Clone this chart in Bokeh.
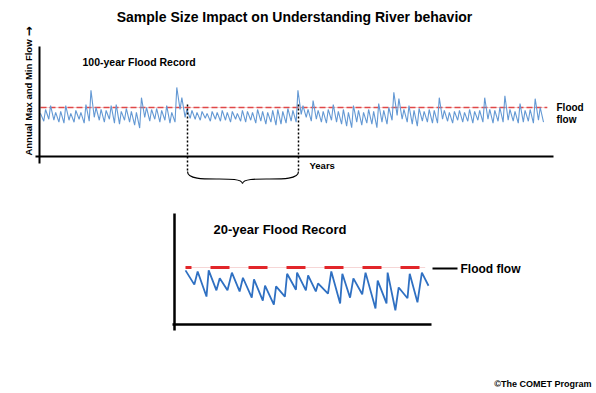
import math
from bokeh.plotting import figure
from bokeh.models import Range1d, Label
from bokeh.embed import file_html
from bokeh.resources import INLINE

# ---------------- data ----------------
# 100-year record: annual maxima and minima (flood flow = 100)
max100 = [88, 96, 104, 90, 92, 104, 88, 94, 90, 106, 135, 100, 96, 94, 104, 106, 92, 98, 92, 90,
          120, 100, 96, 98, 94, 104, 90, 141, 120, 96, 94, 90, 92, 88, 92, 90, 94, 90, 92, 88,
          94, 92, 90, 96, 92, 90, 94, 96, 92, 98, 94, 135, 104, 96, 114, 94, 92, 96, 106, 92,
          96, 90, 104, 94, 90, 96, 92, 108, 94, 100, 131, 118, 96, 104, 94, 98, 92, 96, 94, 120,
          94, 90, 92, 94, 90, 96, 92, 94, 120, 96, 94, 100, 124, 96, 92, 108, 94, 96, 118, 100]
min100 = [72, 76, 74, 70, 68, 74, 70, 76, 68, 72, 80, 74, 70, 76, 68, 66, 74, 70, 64, 58,
          80, 72, 76, 70, 74, 68, 70, 96, 80, 78, 76, 74, 78, 72, 76, 72, 74, 70, 76, 72,
          70, 74, 68, 72, 66, 70, 64, 66, 68, 72, 70, 86, 80, 72, 76, 70, 68, 74, 70, 66,
          62, 59, 70, 64, 68, 66, 59, 70, 66, 74, 84, 76, 70, 66, 62, 72, 70, 68, 68, 76,
          72, 68, 74, 70, 72, 68, 74, 70, 76, 68, 72, 70, 74, 72, 68, 70, 72, 68, 74, 70]

# 20-year record: time (years) and flow (flood flow = 100)
t20 = [0.0, 0.8, 1.1, 1.9, 2.1, 2.8, 3.1, 3.8, 4.2, 4.9, 5.2, 6.0, 6.2, 7.0, 7.2, 8.0,
       8.2, 9.0, 9.2, 10.0, 10.1, 10.9, 11.1, 11.8, 12.0, 12.9, 13.2, 14.0, 14.2, 14.9,
       15.2, 16.0, 16.3, 17.2, 17.4, 18.2, 18.3, 19.0, 19.3, 20.1, 20.3, 21.0, 21.4, 22.0]
flow20 = [95, 70, 93, 49, 95, 60, 81, 60, 91, 58, 82, 47, 79, 42, 68, 35,
          67, 49, 89, 61, 91, 60, 86, 58, 72, 54, 93, 37, 89, 47,
          81, 53, 91, 28, 77, 37, 91, 25, 65, 46, 89, 39, 91, 68]

FLOOD = 100

title = "Sample Size Impact on Understanding River behavior"
ylabel = "Annual Max and Min Flow"
yarrow = "\u2192"
xlabel = "Years"
rec100 = "100-year Flood Record"
rec20 = "20-year Flood Record"
credit = "\u00a9The COMET Program"

# ---------------- layout helpers (page pixel coords) ----------------
W, H = 596, 393
def cx(px): return px
def cy(py): return H - py

p = figure(width=W, height=H, output_backend="svg", toolbar_location=None,
           x_range=Range1d(0, W), y_range=Range1d(0, H), min_border=0)
p.axis.visible = False
p.grid.visible = False
p.outline_line_color = None
p.background_fill_color = "white"
p.border_fill_color = "white"

FONT = "Liberation Sans"

def extra(name_x, name_y, px0, px1, t0, t1, py0, py1, f0, f1):
    sx = (px1 - px0) / (t1 - t0)
    xs = t0 - px0 / sx
    xe = xs + W / sx
    sy = (py0 - py1) / (f1 - f0)
    ys = f0 - (H - py0) / sy
    ye = ys + H / sy
    p.extra_x_ranges[name_x] = Range1d(xs, xe)
    p.extra_y_ranges[name_y] = Range1d(ys, ye)

# top chart: year 0 -> x 40, year 99.65 -> x 543 ; flow 0 -> y 156, flow 100 -> y 107
extra("tx", "ty", 40, 543, 0, 99.65, 156, 107, 0, 100)
# bottom chart: t 0 -> x 185, t 22 -> x 428 ; flow 0 -> y 324, flow 100 -> y 267
extra("bx", "by", 185, 428, 0, 22, 324, 267, 0, 100)

# ---------------- top chart ----------------
tx, ty = [], []
for i, (mx, mn) in enumerate(zip(max100, min100)):
    tx += [i, i + 0.65]
    ty += [mx, mn]

p.line([0, 100.4], [FLOOD, FLOOD], x_range_name="tx", y_range_name="ty",
       line_color="#f6d2d2", line_width=1)
p.line([0, 100.4], [FLOOD, FLOOD], x_range_name="tx", y_range_name="ty",
       line_color="#e04848", line_width=1.4, line_dash="6 3")
p.line(tx, ty, x_range_name="tx", y_range_name="ty", line_color="#6499d4", line_width=1.1)

# axes
p.line([cx(39), cx(39)], [cy(46), cy(163)], line_color="black", line_width=2)
p.line([cx(35), cx(553)], [cy(156), cy(156)], line_color="black", line_width=2)

# dotted markers & brace
for xv in (187, 298):
    p.line([cx(xv), cx(xv)], [cy(104), cy(172)], line_color="black", line_width=1.5, line_dash="2 2")
p.bezier(x0=[cx(187), cx(298)], y0=[cy(171), cy(171)],
         x1=[cx(242), cx(242)], y1=[cy(183), cy(183)],
         cx0=[cx(187), cx(298)], cy0=[cy(185), cy(185)],
         cx1=[cx(240), cx(244)], cy1=[cy(173), cy(173)],
         line_color="black", line_width=1.2)

# ---------------- bottom chart ----------------
p.line([0, 21.7], [FLOOD, FLOOD], x_range_name="bx", y_range_name="by",
       line_color="#f6d6d6", line_width=1)
p.line([0, 21.7], [FLOOD, FLOOD], x_range_name="bx", y_range_name="by",
       line_color="#e2262a", line_width=3, line_dash="19 19", line_dash_offset=13)
p.line(t20, flow20, x_range_name="bx", y_range_name="by", line_color="#2f70c2", line_width=1.8)

p.line([cx(174), cx(174)], [cy(213), cy(330)], line_color="black", line_width=2.5)
p.line([cx(172), cx(431)], [cy(324), cy(324)], line_color="black", line_width=2.5)
p.line([cx(432), cx(457)], [cy(268), cy(268)], line_color="black", line_width=2)

# ---------------- texts ----------------
def lab(txt, x, y, size, align="left", angle=0.0, style="bold", base="middle", font=FONT):
    p.add_layout(Label(x=cx(x), y=cy(y), text=txt, text_font=font, text_font_size=size,
                       text_font_style=style, text_align=align, text_baseline=base,
                       angle=angle, text_color="black"))

lab(title, 294, 16, "14px", align="center")
lab(rec100, 82, 61, "10.5px")
lab("Flood", 556, 107, "10px")
lab("flow", 556, 119, "10px")
lab(xlabel, 309, 165, "9.5px")
lab(ylabel, 28, 97, "9.5px", align="center", angle=math.pi / 2)
lab(yarrow, 28, 31, "12px", align="center", angle=math.pi / 2, font="DejaVu Sans")
lab(rec20, 213, 229, "13px")
lab("Flood flow", 460, 268, "12px")
lab(credit, 591, 383, "9px", align="right")

open("out.html", "w").write(file_html(p, INLINE))
